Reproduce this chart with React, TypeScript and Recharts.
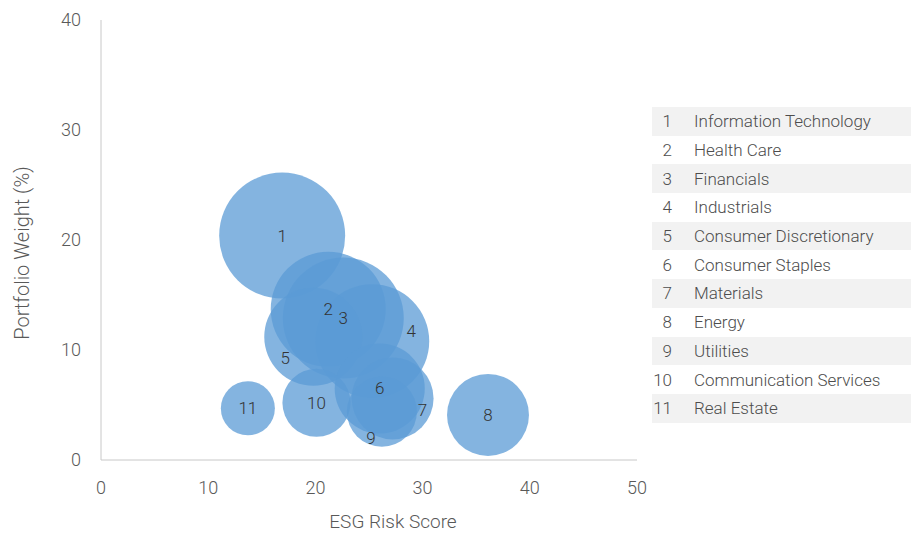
import { ScatterChart, Scatter, XAxis, YAxis, ZAxis } from 'recharts';

// sectors, numbered 1..11 as in the legend table
const sectors = [
  'Information Technology',
  'Health Care',
  'Financials',
  'Industrials',
  'Consumer Discretionary',
  'Consumer Staples',
  'Materials',
  'Energy',
  'Utilities',
  'Communication Services',
  'Real Estate',
];
const esgRiskScore = [16.9, 21.2, 22.6, 25.3, 19.8, 26.0, 27.2, 36.1, 26.2, 20.1, 13.7];
const portfolioWeight = [20.4, 13.7, 12.9, 10.8, 11.2, 6.5, 5.6, 4.1, 4.4, 5.2, 4.7];
// relative bubble size (area)
const bubbleSize = [39.7, 33.1, 36.6, 32.5, 24.0, 20.3, 16.8, 16.8, 12.3, 11.6, 7.3];
const xTicks = [0, 10, 20, 30, 40, 50];
const yTicks = [0, 10, 20, 30, 40];

// a few labels were nudged off the bubble centre in the original
const labelShift: Record<number, [number, number]> = {
  4: [39, -10],
  5: [-28, 21],
  7: [30, 12],
  9: [-11, 26],
};

const FONT = 'Roboto, "Open Sans", sans-serif';
const WEIGHT = 300;
const BLUE = '#5b9bd5';
const MAX_AREA = Math.PI * 100 * 40;

const data = sectors.map((name, i) => ({
  id: i + 1,
  name,
  x: esgRiskScore[i],
  y: portfolioWeight[i],
  z: bubbleSize[i],
}));

const Bubble = (props: any) => {
  const { cx, cy, width } = props;
  return <circle cx={cx} cy={cy} r={width / 2} fill={BLUE} fillOpacity={0.75} />;
};

const BubbleLabel = (props: any) => {
  const { cx, cy, payload } = props;
  const [dx, dy] = labelShift[payload.id] ?? [0, 0];
  return (
    <text
      x={cx + dx}
      y={cy + dy}
      dy="0.35em"
      textAnchor="middle"
      fontFamily={FONT}
      fontWeight={WEIGHT}
      fontSize={17}
      fill="#333"
    >
      {payload.id}
    </text>
  );
};

const XTitle = (props: any) => {
  const { viewBox } = props;
  return (
    <text
      x={viewBox.x + viewBox.width / 2 + 24}
      y={viewBox.y + 68}
      textAnchor="middle"
      fontFamily={FONT}
      fontWeight={WEIGHT}
      fontSize={19}
      fill="#595959"
    >
      ESG Risk Score
    </text>
  );
};

const YTitle = (props: any) => {
  const { viewBox } = props;
  const cx = 29;
  const cy = viewBox.y + viewBox.height / 2 + 13;
  return (
    <text
      x={cx}
      y={cy}
      transform={`rotate(-90 ${cx} ${cy})`}
      textAnchor="middle"
      fontFamily={FONT}
      fontWeight={WEIGHT}
      fontSize={20}
      fill="#595959"
    >
      Portfolio Weight (%)
    </text>
  );
};

function SectorTable() {
  return (
    <div
      style={{
        position: 'absolute',
        left: 652,
        top: 107,
        width: 259,
        fontFamily: FONT,
        fontWeight: WEIGHT,
        fontSize: 17,
        color: '#4d4d4d',
      }}
    >
      {sectors.map((name, i) => (
        <div
          key={name}
          style={{
            display: 'flex',
            alignItems: 'center',
            height: 28.7,
            background: i % 2 === 0 ? '#f2f2f2' : 'transparent',
          }}
        >
          <span style={{ width: 20, textAlign: 'right' }}>{i + 1}</span>
          <span style={{ marginLeft: 22 }}>{name}</span>
        </div>
      ))}
    </div>
  );
}

export default function App() {
  return (
    <div style={{ position: 'relative', width: 915, height: 533, background: '#fff' }}>
      <style>{'body { margin: 0; }'}</style>
      <ScatterChart width={915} height={533} margin={{ top: 20, right: 278, bottom: 0, left: 0 }}>
        <XAxis
          type="number"
          dataKey="x"
          domain={[0, 50]}
          ticks={xTicks}
          height={73}
          axisLine={{ stroke: '#c8c8c8' }}
          tickLine={false}
          tickSize={0}
          tickMargin={21}
          tick={{ fontFamily: FONT, fontWeight: WEIGHT, fontSize: 18, fill: '#595959' }}
          label={XTitle}
        />
        <YAxis
          type="number"
          dataKey="y"
          domain={[0, 40]}
          ticks={yTicks}
          width={101}
          axisLine={{ stroke: '#c8c8c8' }}
          tickLine={false}
          tickSize={0}
          tickMargin={20}
          tick={{ fontFamily: FONT, fontWeight: WEIGHT, fontSize: 18, fill: '#595959' }}
          label={YTitle}
        />
        <ZAxis type="number" dataKey="z" domain={[0, 40]} range={[0, MAX_AREA]} />
        <Scatter data={data} shape={Bubble} isAnimationActive={false} />
        <Scatter data={data} shape={BubbleLabel} isAnimationActive={false} />
      </ScatterChart>
      <SectorTable />
    </div>
  );
}
